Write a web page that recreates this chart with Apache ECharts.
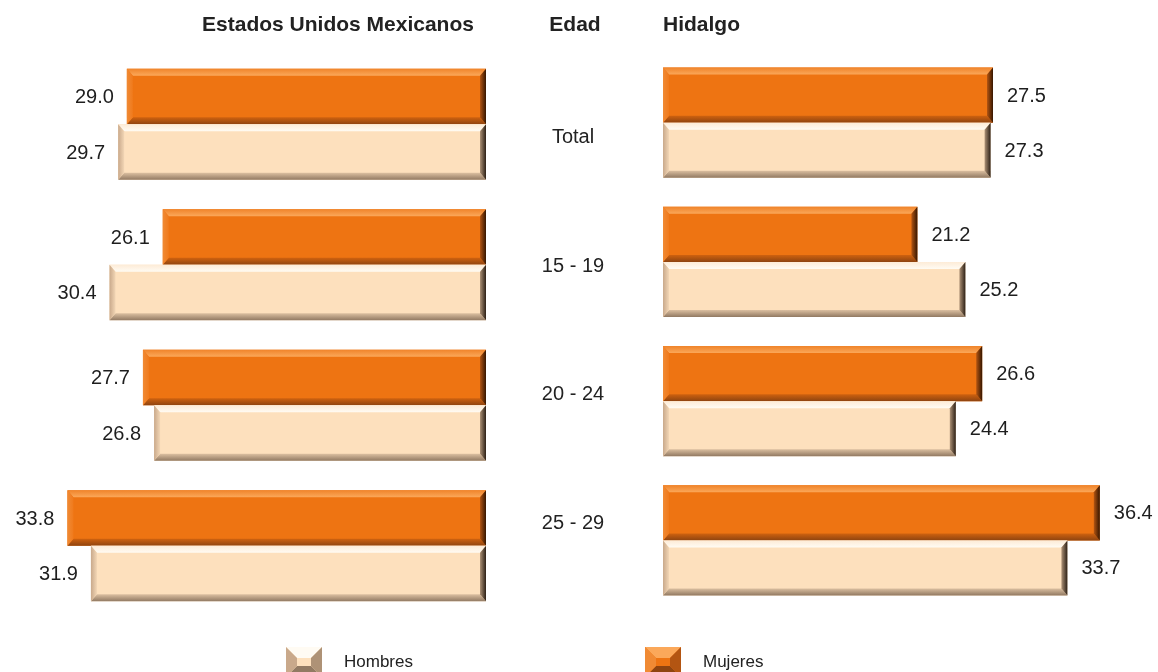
<!DOCTYPE html>
<html>
<head>
<meta charset="utf-8">
<script src="https://cdn.jsdelivr.net/npm/echarts@6/dist/echarts.min.js"></script>
<style>
  html, body { margin: 0; padding: 0; background: #fff; }
  #chart { width: 1158px; height: 672px; }
</style>
</head>
<body>
<div id="chart"></div>
<script>
// age groups, top to bottom
var ages = ["Total", "15 - 19", "20 - 24", "25 - 29"];
// Estados Unidos Mexicanos
var nacionMujeres = [29.0, 26.1, 27.7, 33.8];
var nacionHombres = [29.7, 30.4, 26.8, 31.9];
// Hidalgo
var hidalgoMujeres = [27.5, 21.2, 26.6, 36.4];
var hidalgoHombres = [27.3, 25.2, 24.4, 33.7];

var FONT = "Liberation Sans, Arial, sans-serif";

// bevel shades for each series
var shades = {
    Mujeres: {
        face: "#ee7412",
        top: ["#f0842a", "#fba85a"],
        bottom: ["#d0620f", "#8f4410"],
        left: ["#f08a34", "#f07a1c"],
        right: ["#b35512", "#361600"]
    },
    Hombres: {
        face: "#fde0bd",
        top: ["#fdebd6", "#fffbf3"],
        bottom: ["#dcc0a1", "#927a63"],
        left: ["#c9a98b", "#f2d6b5"],
        right: ["#ae9276", "#2c2016"]
    }
};

function grad(dir, c) {
    // dir: 'down' | 'right'  (from stop 0 to stop 1)
    var v = dir === "down" ? [0, 0, 0, 1] : [0, 0, 1, 0];
    return new echarts.graphic.LinearGradient(v[0], v[1], v[2], v[3], [
        { offset: 0, color: c[0] },
        { offset: 1, color: c[1] }
    ]);
}

function makeRender(name, place, leftSide) {
    var s = shades[name];
    return function (params, api) {
        var idx = api.value(0);
        var val = api.value(1);
        var p0 = api.coord([0, idx]);
        var p1 = api.coord([val, idx]);
        var band = api.size([0, 1])[1];
        var h = band * 0.395;
        var x0 = Math.min(p0[0], p1[0]);
        var x1 = Math.max(p0[0], p1[0]);
        var y0 = place === "upper" ? p0[1] - h : p0[1];
        var y1 = y0 + h;
        var b = 7, bx = 6;
        var children = [
            { type: "rect", shape: { x: x0, y: y0, width: x1 - x0, height: h }, style: { fill: s.face } },
            { type: "polygon", shape: { points: [[x0, y0], [x1, y0], [x1 - bx, y0 + b], [x0 + bx, y0 + b]] }, style: { fill: grad("down", s.top) } },
            { type: "polygon", shape: { points: [[x0 + bx, y1 - b], [x1 - bx, y1 - b], [x1, y1], [x0, y1]] }, style: { fill: grad("down", s.bottom) } },
            { type: "polygon", shape: { points: [[x0, y0], [x0 + bx, y0 + b], [x0 + bx, y1 - b], [x0, y1]] }, style: { fill: grad("right", s.left) } },
            { type: "polygon", shape: { points: [[x1 - bx, y0 + b], [x1, y0], [x1, y1], [x1 - bx, y1 - b]] }, style: { fill: grad("right", s.right) } },
            {
                type: "text",
                style: {
                    text: val.toFixed(1),
                    x: leftSide ? x0 - 13 : x1 + 14,
                    y: (y0 + y1) / 2 + 1,
                    align: leftSide ? "right" : "left",
                    verticalAlign: "middle",
                    fontSize: 20,
                    fontFamily: FONT,
                    fill: "#1e1e1e"
                }
            }
        ];
        return { type: "group", children: children };
    };
}

function barSeries(name, gridIdx, values, place) {
    return {
        type: "custom",
        name: name,
        xAxisIndex: gridIdx,
        yAxisIndex: gridIdx,
        data: values.map(function (v, i) { return [i, v]; }),
        encode: { x: 1, y: 0 },
        renderItem: makeRender(name, place, gridIdx === 0)
    };
}

function bevelIcon(name) {
    var s = shades[name];
    var w = 36, h = 30, b = 11;
    var svg =
        '<svg xmlns="http://www.w3.org/2000/svg" width="' + w + '" height="' + h + '">' +
        '<rect width="' + w + '" height="' + h + '" fill="' + s.face + '"/>' +
        '<polygon points="0,0 ' + w + ',0 ' + (w - b) + ',' + b + ' ' + b + ',' + b + '" fill="' + s.top[1] + '"/>' +
        '<polygon points="' + b + ',' + (h - b) + ' ' + (w - b) + ',' + (h - b) + ' ' + w + ',' + h + ' 0,' + h + '" fill="' + s.bottom[1] + '"/>' +
        '<polygon points="0,0 ' + b + ',' + b + ' ' + b + ',' + (h - b) + ' 0,' + h + '" fill="' + s.left[0] + '"/>' +
        '<polygon points="' + (w - b) + ',' + b + ' ' + w + ',0 ' + w + ',' + h + ' ' + (w - b) + ',' + (h - b) + '" fill="' + s.right[0] + '"/>' +
        '</svg>';
    return "image://data:image/svg+xml;charset=utf-8," + encodeURIComponent(svg);
}

var chart = echarts.init(document.getElementById("chart"));

var titleStyle = { fontSize: 21, fontWeight: "bold", fontFamily: FONT, color: "#222" };

var option = {
    animation: false,
    title: [
        { text: "Estados Unidos Mexicanos", left: 338, top: 15, padding: 0, textAlign: "center", textStyle: titleStyle },
        { text: "Edad", left: 575, top: 15, padding: 0, textAlign: "center", textStyle: titleStyle },
        { text: "Hidalgo", left: 663, top: 15, padding: 0, textStyle: titleStyle }
    ],
    legend: [
        {
            data: [{ name: "Hombres", icon: bevelIcon("Hombres") }],
            left: 286, top: 647, itemWidth: 36, itemHeight: 30, padding: 0,
            selectedMode: false,
            textStyle: { fontSize: 17, fontFamily: FONT, color: "#222", padding: [0, 0, 0, 17] }
        },
        {
            data: [{ name: "Mujeres", icon: bevelIcon("Mujeres") }],
            left: 645, top: 647, itemWidth: 36, itemHeight: 30, padding: 0,
            selectedMode: false,
            textStyle: { fontSize: 17, fontFamily: FONT, color: "#222", padding: [0, 0, 0, 17] }
        }
    ],
    grid: [
        { left: 3, right: 672, top: 54, height: 562 },
        { left: 663, right: 15, top: 53, height: 557 },
        { left: 573, width: 1, top: 73, height: 515 }
    ],
    xAxis: [
        { gridIndex: 0, type: "value", min: 0, max: 39, inverse: true, show: false },
        { gridIndex: 1, type: "value", min: 0, max: 40, show: false },
        { gridIndex: 2, type: "value", show: false }
    ],
    yAxis: [
        { gridIndex: 0, type: "category", data: ages, inverse: true, show: false },
        { gridIndex: 1, type: "category", data: ages, inverse: true, show: false },
        {
            gridIndex: 2, type: "category", data: ages, inverse: true,
            axisLine: { show: false }, axisTick: { show: false }, splitLine: { show: false },
            axisLabel: { align: "center", margin: 0, fontSize: 20, fontFamily: FONT, color: "#222" }
        }
    ],
    series: [
        barSeries("Mujeres", 0, nacionMujeres, "upper"),
        barSeries("Hombres", 0, nacionHombres, "lower"),
        barSeries("Mujeres", 1, hidalgoMujeres, "upper"),
        barSeries("Hombres", 1, hidalgoHombres, "lower")
    ]
};

chart.setOption(option);
window.addEventListener("resize", function () {
    chart.resize();
});
</script>
</body>
</html>
